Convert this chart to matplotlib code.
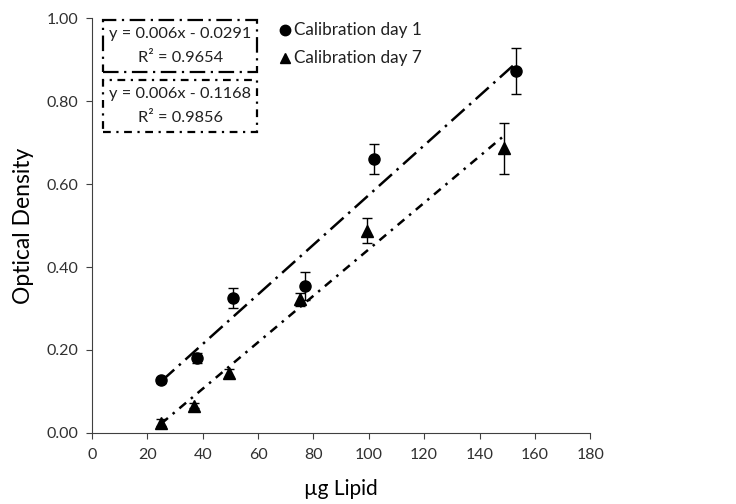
import numpy as np
import matplotlib.pyplot as plt
from matplotlib.patches import Rectangle

plt.rcParams['font.family'] = ['Lato', 'DejaVu Sans']

# Calibration day 1
x1 = [25, 38, 51, 77, 102, 153]
y1 = [0.127, 0.180, 0.325, 0.355, 0.660, 0.872]
e1 = [0.006, 0.012, 0.024, 0.034, 0.036, 0.055]

# Calibration day 7
x7 = [25, 37, 49.5, 75, 99.5, 149]
y7 = [0.025, 0.066, 0.145, 0.322, 0.488, 0.686]
e7 = [0.008, 0.006, 0.010, 0.015, 0.029, 0.062]

eq1 = ['y = 0.006x - 0.0291', 'R² = 0.9654']
eq7 = ['y = 0.006x - 0.1168', 'R² = 0.9856']
labels = ['Calibration day 1', 'Calibration day 7']

style1 = (0, (7, 2.5, 1, 2.5))
style7 = (0, (3.5, 2.5, 1, 2.5))

fig = plt.figure(figsize=(7.36, 5.04), dpi=100)
ax = fig.add_axes([0.125, 0.141, 0.677, 0.823])

#Trendlines from a linear fit over the data range
for xs, ys, ls in [(x1, y1, style1), (x7, y7, style7)]:
    p = np.polyfit(xs, ys, 1)
    xx = np.array([min(xs), max(xs)])
    ax.plot(xx, np.polyval(p, xx), color='black', lw=1.8, ls=ls, zorder=2)

ax.errorbar(x1, y1, yerr=e1, fmt='o', color='black', ms=8, capsize=3.5,
            elinewidth=1, capthick=1, zorder=3)
ax.errorbar(x7, y7, yerr=e7, fmt='^', color='black', ms=8, capsize=3.5,
            elinewidth=1, capthick=1, zorder=3)

ax.set_xlim(0, 180)
ax.set_ylim(0, 1.0)
ax.set_xticks(np.arange(0, 181, 20))
ax.set_yticks(np.arange(0, 1.01, 0.2))
ax.set_yticklabels(['%.2f' % v for v in np.arange(0, 1.01, 0.2)])
ax.tick_params(labelsize=11.5, direction='out', length=4, colors='#404040',
               labelcolor='#303030')
ax.tick_params(axis='y', pad=6)
ax.tick_params(axis='x', pad=7)
for s in ['top', 'right']:
    ax.spines[s].set_visible(False)
for s in ['left', 'bottom']:
    ax.spines[s].set_color('#404040')

ax.set_xlabel('µg Lipid', fontsize=15, labelpad=12)
ax.set_ylabel('Optical Density', fontsize=16.5, labelpad=9)

#Equation boxes
tr = ax.transAxes
for (eq, ls, y0, yc) in [(eq1, style1, 0.870, 0.933), (eq7, style7, 0.725, 0.788)]:
    ax.add_patch(Rectangle((0.022, y0), 0.309, 0.125, transform=tr, fc='white',
                           ec='black', lw=1.6, ls=ls, clip_on=False, zorder=4))
    ax.text(0.177, yc + 0.028, eq[0], transform=tr, ha='center', va='center',
            fontsize=11.8, color='#202020', zorder=5)
    ax.text(0.177, yc - 0.028, eq[1], transform=tr, ha='center', va='center',
            fontsize=11.8, color='#202020', zorder=5)

#Legend
for (m, lab, yy) in [('o', labels[0], 0.971), ('^', labels[1], 0.904)]:
    ax.plot([0.388], [yy], marker=m, ms=7.5, color='black', ls='none',
            transform=tr, clip_on=False)
    ax.text(0.405, yy, lab, transform=tr, ha='left', va='center',
            fontsize=12.3, color='#202020')

fig.savefig('out.png', dpi=100)
